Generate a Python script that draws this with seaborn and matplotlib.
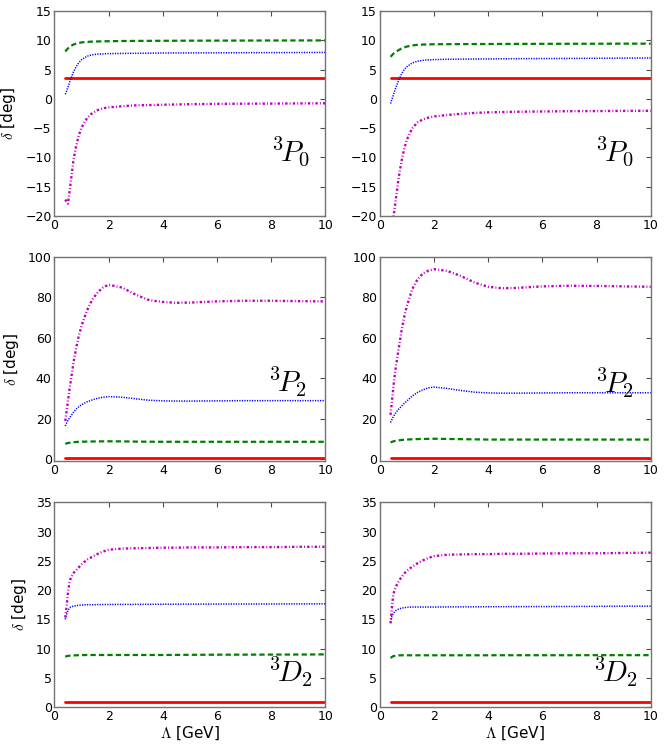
import numpy as np
import pandas as pd
import matplotlib
matplotlib.use("Agg")
import matplotlib.pyplot as plt
import seaborn as sns

# cutoff grid (GeV)
lam = [0.4, 0.45, 0.5, 0.55, 0.6, 0.7, 0.8, 0.9, 1.0, 1.2, 1.4, 1.6, 1.8, 2.0,
       2.5, 3.0, 3.5, 4.0, 4.5, 5.0, 6.0, 7.0, 8.0, 9.0, 10.0]

# ---- 3P0, left ----
p0L_red = [3.6] * 25
p0L_green = [8.1, 8.4, 8.65, 8.85, 9.05, 9.3, 9.45, 9.58, 9.66, 9.75, 9.8, 9.83, 9.85, 9.87,
             9.9, 9.92, 9.93, 9.94, 9.95, 9.96, 9.97, 9.98, 9.99, 10.0, 10.0]
p0L_blue = [0.8, 1.4, 2.0, 2.7, 3.4, 4.6, 5.5, 6.2, 6.7, 7.3, 7.55, 7.65, 7.7, 7.75,
            7.78, 7.8, 7.82, 7.85, 7.86, 7.87, 7.88, 7.9, 7.92, 7.93, 7.95]
p0L_mag = [-17.2, -17.6, -17.9, -16.1, -14.3, -10.5, -8.1, -6.2, -4.9, -3.3, -2.4, -1.9, -1.6, -1.45,
           -1.25, -1.1, -1.05, -1.0, -0.95, -0.9, -0.85, -0.82, -0.8, -0.77, -0.75]

# ---- 3P0, right ----
p0R_red = [3.5] * 25
p0R_green = [7.2, 7.45, 7.7, 7.9, 8.05, 8.35, 8.6, 8.8, 8.95, 9.15, 9.25, 9.3, 9.32, 9.35,
             9.36, 9.37, 9.38, 9.39, 9.4, 9.41, 9.42, 9.43, 9.44, 9.45, 9.45]
p0R_blue = [-0.8, -0.1, 0.6, 1.3, 2.0, 3.2, 4.2, 5.0, 5.5, 6.15, 6.45, 6.6, 6.68, 6.72,
            6.78, 6.8, 6.82, 6.84, 6.86, 6.88, 6.9, 6.92, 6.95, 6.97, 7.0]
p0R_mag = [-26.0, -23.0, -20.5, -18.8, -17.0, -13.5, -10.8, -8.6, -7.0, -5.0, -4.0, -3.5, -3.2, -3.0,
           -2.75, -2.55, -2.4, -2.3, -2.25, -2.2, -2.15, -2.1, -2.08, -2.05, -2.03]

# ---- 3P2, left ----
p2L_red = [0.8] * 25
p2L_green = [7.7, 7.9, 8.1, 8.2, 8.3, 8.5, 8.6, 8.7, 8.75, 8.8, 8.85, 8.9, 8.92, 8.95,
             8.9, 8.8, 8.75, 8.7, 8.7, 8.7, 8.7, 8.7, 8.7, 8.7, 8.7]
p2L_blue = [16.5, 18.0, 19.3, 20.4, 21.3, 23.2, 24.8, 26.0, 27.0, 28.4, 29.4, 30.2, 30.7, 31.0,
            30.7, 29.9, 29.2, 28.9, 28.8, 28.8, 28.9, 29.0, 29.0, 29.0, 29.0]
p2L_mag = [19.0, 24.0, 29.0, 34.0, 38.5, 47.5, 55.0, 61.0, 66.0, 73.5, 79.0, 82.5, 85.0, 86.2,
           84.8, 81.3, 78.6, 77.7, 77.3, 77.4, 78.0, 78.3, 78.3, 78.1, 78.0]

# ---- 3P2, right ----
p2R_red = [0.8] * 25
p2R_green = [8.4, 8.65, 8.9, 9.05, 9.2, 9.4, 9.6, 9.7, 9.8, 9.95, 10.05, 10.1, 10.15, 10.2,
             10.1, 10.0, 9.9, 9.8, 9.8, 9.8, 9.8, 9.8, 9.8, 9.8, 9.8]
p2R_blue = [18.2, 19.6, 21.0, 22.1, 23.2, 24.8, 26.2, 27.6, 28.8, 31.3, 33.1, 34.4, 35.3, 35.7,
            35.0, 34.0, 33.2, 32.8, 32.7, 32.7, 32.8, 32.9, 32.9, 32.9, 32.9]
p2R_mag = [22.0, 28.5, 35.0, 41.0, 46.0, 54.5, 63.0, 70.0, 75.5, 84.0, 89.0, 91.8, 93.2, 93.9,
           93.0, 90.5, 87.3, 85.2, 84.5, 84.6, 85.4, 85.7, 85.6, 85.4, 85.2]

# ---- 3D2, left ----
d2L_red = [0.85] * 25
d2L_green = [8.6, 8.7, 8.75, 8.78, 8.8, 8.82, 8.85, 8.87, 8.88, 8.9, 8.9, 8.9, 8.9, 8.9,
             8.9, 8.9, 8.9, 8.9, 8.92, 8.93, 8.95, 8.96, 8.97, 8.98, 9.0]
d2L_blue = [15.0, 15.9, 16.5, 16.9, 17.1, 17.25, 17.35, 17.4, 17.45, 17.5, 17.5, 17.52, 17.53, 17.54,
            17.55, 17.56, 17.57, 17.58, 17.59, 17.6, 17.61, 17.62, 17.63, 17.64, 17.65]
d2L_mag = [15.3, 17.3, 19.5, 21.2, 22.0, 22.9, 23.4, 23.9, 24.4, 25.2, 25.7, 26.2, 26.6, 26.9,
           27.1, 27.15, 27.2, 27.25, 27.25, 27.3, 27.3, 27.35, 27.35, 27.4, 27.4]

# ---- 3D2, right ----
d2R_red = [0.85] * 25
d2R_green = [8.4, 8.55, 8.7, 8.75, 8.8, 8.83, 8.85, 8.85, 8.85, 8.85, 8.85, 8.85, 8.85, 8.85,
             8.85, 8.85, 8.85, 8.85, 8.86, 8.86, 8.86, 8.86, 8.87, 8.87, 8.87]
d2R_blue = [14.5, 15.5, 16.0, 16.3, 16.5, 16.75, 16.9, 17.0, 17.05, 17.1, 17.1, 17.1, 17.1, 17.1,
            17.12, 17.13, 17.14, 17.15, 17.16, 17.17, 17.18, 17.2, 17.22, 17.24, 17.25]
d2R_mag = [14.3, 17.0, 19.2, 20.0, 20.6, 21.5, 22.2, 22.8, 23.3, 24.0, 24.6, 25.1, 25.5, 25.8,
           26.05, 26.1, 26.15, 26.15, 26.2, 26.2, 26.25, 26.3, 26.3, 26.35, 26.4]

panel_labels = [r"${}^3\!P_0$", r"${}^3\!P_0$", r"${}^3\!P_2$", r"${}^3\!P_2$",
                r"${}^3\!D_2$", r"${}^3\!D_2$"]
ylims = [(-20, 15), (-20, 15), (-1, 100), (-1, 100), (0, 35), (0, 35)]
yticks = [np.arange(-20, 16, 5), np.arange(-20, 16, 5), np.arange(0, 101, 20),
          np.arange(0, 101, 20), np.arange(0, 36, 5), np.arange(0, 36, 5)]
label_pos = [(0.87, 0.317), (0.865, 0.317), (0.86, 0.39), (0.865, 0.385), (0.87, 0.17), (0.87, 0.17)]

panels = [
    (p0L_red, p0L_green, p0L_blue, p0L_mag),
    (p0R_red, p0R_green, p0R_blue, p0R_mag),
    (p2L_red, p2L_green, p2L_blue, p2L_mag),
    (p2R_red, p2R_green, p2R_blue, p2R_mag),
    (d2L_red, d2L_green, d2L_blue, d2L_mag),
    (d2R_red, d2R_green, d2R_blue, d2R_mag),
]

sns.set_style("white")
plt.rcParams["font.family"] = ["DejaVu Sans"]
plt.rcParams["mathtext.fontset"] = "cm"
plt.rcParams["text.color"] = "black"
plt.rcParams["axes.labelcolor"] = "black"

fig, axes = plt.subplots(3, 2, figsize=(6.64, 7.47), dpi=100)
fig.subplots_adjust(left=0.082, right=0.980, top=0.985, bottom=0.0535,
                    wspace=0.2, hspace=0.2)

styles = [
    dict(color="#ff0000", lw=2.0, linestyle="-"),
    dict(color="#007f00", lw=1.6, linestyle=(0, (2.4, 1.4))),
    dict(color="#0000ff", lw=1.1, linestyle=(0, (0.8, 0.85))),
    dict(color="#bf00bf", lw=1.7, linestyle=(0, (1.0, 0.9, 0.4, 0.9))),
]

for i, ax in enumerate(axes.flat):
    for series, st in zip(panels[i], styles):
        df = pd.DataFrame({"lam": lam, "delta": series})
        sns.lineplot(data=df, x="lam", y="delta", ax=ax, estimator=None,
                     sort=False, **st)
    ax.set_xlim(0, 10)
    ax.set_ylim(*ylims[i])
    ax.set_xticks(np.arange(0, 11, 2))
    ax.set_yticks(yticks[i])
    ax.tick_params(direction="in", top=True, right=True, length=3.5, width=0.8,
                   labelsize=9, pad=2, color="0.3", labelcolor="black")
    for sp in ax.spines.values():
        sp.set_color("0.45")
        sp.set_linewidth(1.0)
    ax.text(label_pos[i][0], label_pos[i][1], panel_labels[i], transform=ax.transAxes,
            ha="center", va="center", fontsize=21, color="black")
    ax.set_xlabel(r"$\Lambda$ [GeV]" if i >= 4 else "", fontsize=11, labelpad=1)
    ax.set_ylabel(r"$\delta$ [deg]" if i % 2 == 0 else "", fontsize=11, labelpad=5)

fig.savefig("out.png", dpi=100)
